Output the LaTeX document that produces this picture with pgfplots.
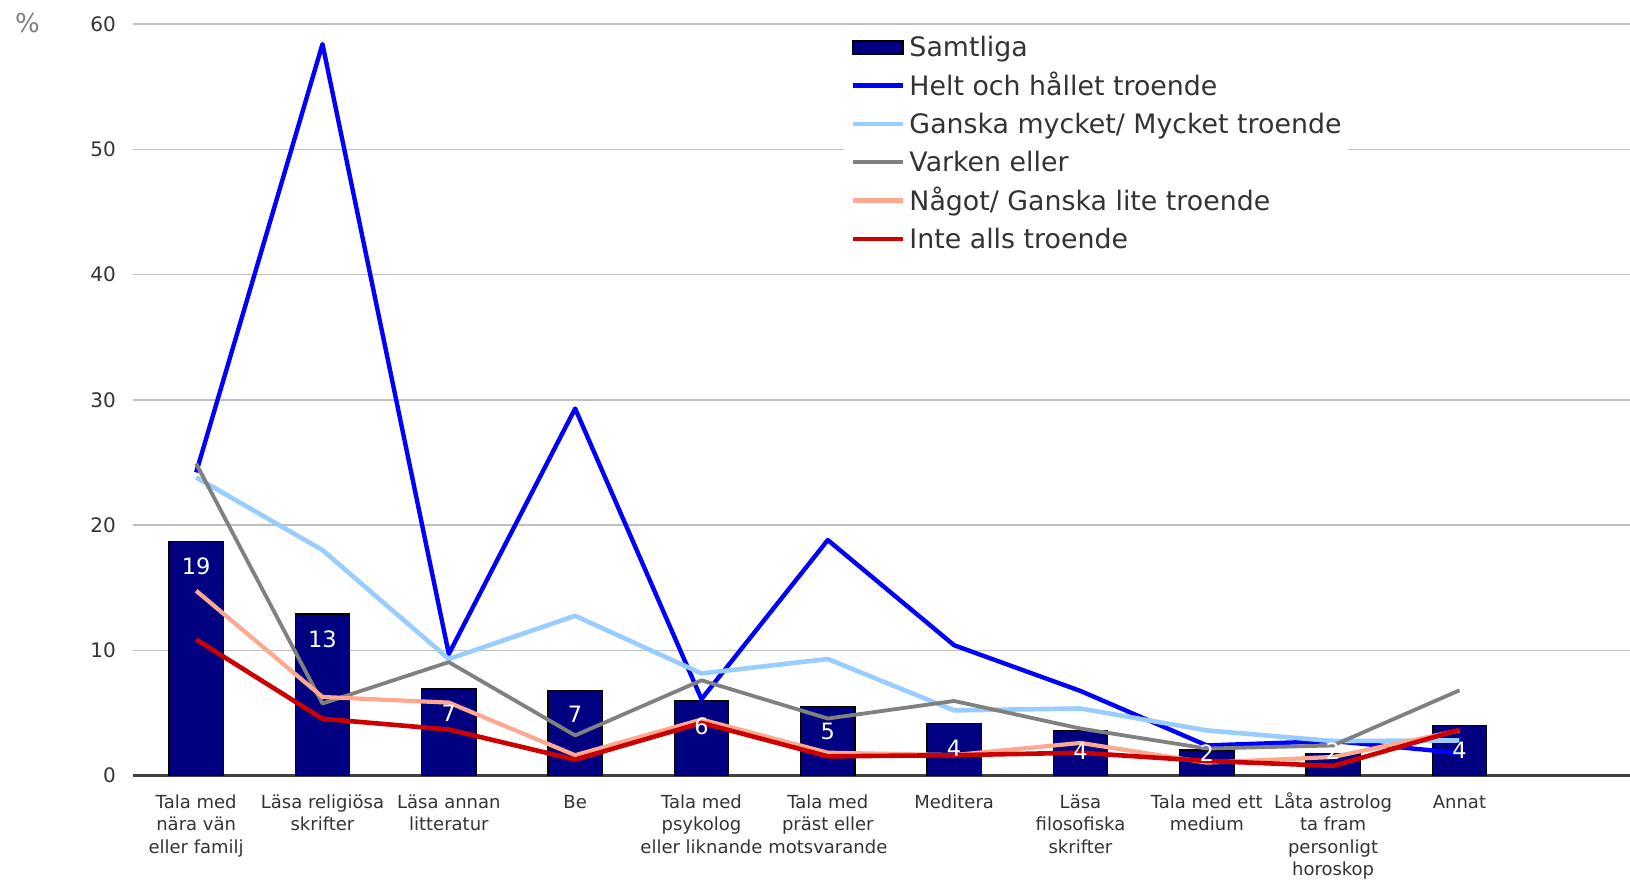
\documentclass[border=0pt]{standalone}
\usepackage{fontspec}
\setmainfont{DejaVu Sans}
\usepackage{pgfplots}
\pgfplotsset{compat=1.18}
\definecolor{navybar}{HTML}{000080}
\definecolor{c1}{HTML}{0000FF}
\definecolor{c2}{HTML}{99CCFF}
\definecolor{c3}{HTML}{808080}
\definecolor{c4}{HTML}{FFA890}
\definecolor{c5}{HTML}{CC0000}
\definecolor{txt}{HTML}{333333}
\definecolor{gridc}{HTML}{C0C0C0}
\definecolor{axc}{HTML}{404040}
\newcommand{\fl}{\rule{0pt}{8pt}}
\begin{document}
\begin{tikzpicture}
\useasboundingbox (-66.5pt,-52.25pt) rectangle (748.5pt,387.75pt);
\begin{axis}[
  at={(0pt,0pt)}, anchor=south west,
  scale only axis, width=748.5pt, height=375.75pt,
  xmin=-0.5, xmax=11.35, ymin=0, ymax=60,
  xtick={0,...,10},
  xticklabels={{\fl Tala med\\nära vän\\eller familj},{\fl Läsa religiösa\\skrifter},{\fl Läsa annan\\litteratur},{\fl Be},{\fl Tala med\\psykolog\\eller liknande},{\fl Tala med\\präst eller\\motsvarande},{\fl Meditera},{\fl Läsa\\filosofiska\\skrifter},{\fl Tala med ett\\medium},{\fl Låta astrolog\\ta fram\\personligt\\horoskop},{\fl Annat}},
  ytick={0,10,...,60},
  ymajorgrids, grid style={gridc, line width=0.75pt},
  extra y ticks={0}, extra y tick labels={},
  extra y tick style={grid style={axc, line width=1.3pt}},
  axis line style={draw=none},
  major tick length=0pt,
  /pgf/number format/assume math mode=true,
  yticklabel style={font=\fontsize{10}{12}\selectfont, text=txt, xshift=-5pt},
  xticklabel style={font=\fontsize{9}{11.2}\selectfont, text=txt, align=center, yshift=-4.85pt},
  legend cell align=left,
  legend style={at={(rel axis cs:0.475,0.9847)}, anchor=north west, draw=none, fill=white,
    inner xsep=3pt, inner ysep=0pt, font=\fontsize{13.4}{16}\selectfont, text=txt,
    row sep=5.9pt, column sep=2.2pt,
    nodes={inner sep=0pt, text height=10.5pt, text depth=2.75pt}},
  legend image code/.code={\draw[#1] (0pt,0.9pt) -- (25pt,0.9pt);},
]
\addplot[ybar, bar width=0.43, fill=navybar, draw=black, line width=0.75pt,
  legend image code/.code={\draw[fill=navybar,draw=black,line width=0.75pt] (0pt,-2.35pt) rectangle (25pt,4.15pt);}]
  coordinates {(0,18.7) (1,12.9) (2,6.9) (3,6.8) (4,6.0) (5,5.5) (6,4.15) (7,3.6) (8,2.05) (9,1.75) (10,4.0)};
\addlegendentry{Samtliga}
\addplot[c1, line width=2.2pt, line join=round]
  coordinates {(0,24.2) (1,58.4) (2,9.7) (3,29.3) (4,6.1) (5,18.8) (6,10.4) (7,6.75) (8,2.4) (9,2.75) (10,1.8)};
\addlegendentry{Helt och hållet troende}
\addplot[c2, line width=2.3pt, line join=round]
  coordinates {(0,23.8) (1,18.0) (2,9.3) (3,12.75) (4,8.15) (5,9.3) (6,5.2) (7,5.35) (8,3.6) (9,2.75) (10,2.8)};
\addlegendentry{Ganska mycket/ Mycket troende}
\addplot[c3, line width=1.9pt, line join=round]
  coordinates {(0,24.9) (1,5.75) (2,9.05) (3,3.2) (4,7.6) (5,4.55) (6,5.95) (7,3.75) (8,2.15) (9,2.4) (10,6.8)};
\addlegendentry{Varken eller}
\addplot[c4, line width=2.1pt, line join=round]
  coordinates {(0,14.75) (1,6.27) (2,5.82) (3,1.62) (4,4.47) (5,1.82) (6,1.63) (7,2.6) (8,1.03) (9,1.48) (10,3.6)};
\addlegendentry{Något/ Ganska lite troende}
\addplot[c5, line width=2.3pt, line join=round]
  coordinates {(0,10.86) (1,4.53) (2,3.67) (3,1.27) (4,4.2) (5,1.53) (6,1.62) (7,1.82) (8,1.16) (9,0.77) (10,3.65)};
\addlegendentry{Inte alls troende}
\addplot[draw=none, forget plot, nodes near coords, point meta=explicit symbolic,
  every node near coord/.style={anchor=center, inner sep=0pt, text=white, font=\fontsize{11.25}{13}\selectfont}]
  table[meta=lab] {
x y lab
0 16.7 19
1 10.9 13
2 4.95 7
3 4.85 7
4 3.9 6
5 3.5 5
6 2.15 4
7 1.95 4
8 1.8 2
9 1.95 2
10 2.0 4
};
\end{axis}
\node[text=c3, font=\fontsize{13}{15}\selectfont, anchor=center] at (-52.75pt,376.25pt) {\%};
\end{tikzpicture}
\end{document}
